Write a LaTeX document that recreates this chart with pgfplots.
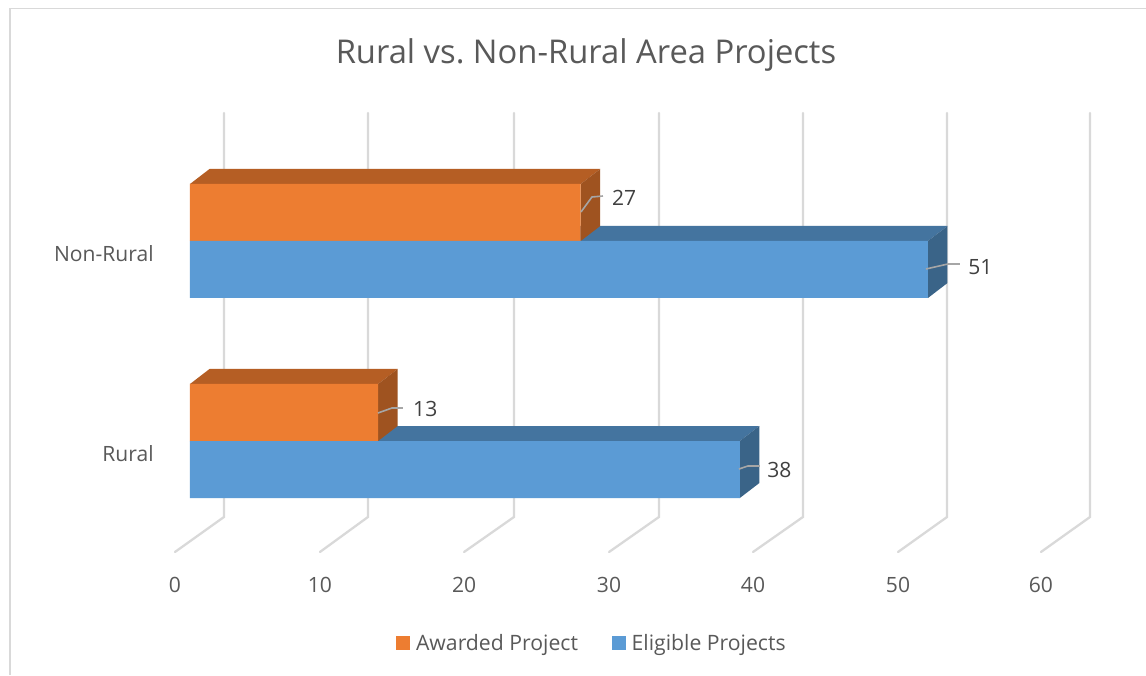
\documentclass[border=0pt]{standalone}
\usepackage{pgfplots}
\pgfplotsset{compat=1.18}
\usepackage{fontspec}
\setmainfont{Open Sans}
\frenchspacing
\definecolor{txt}{HTML}{595959}
\definecolor{lab}{HTML}{404040}
\definecolor{gridc}{HTML}{D9D9D9}
\definecolor{lead}{HTML}{A6A6A6}
\definecolor{orF}{HTML}{ED7D31}
\definecolor{orT}{HTML}{B55E24}
\definecolor{orS}{HTML}{9F5320}
\definecolor{blF}{HTML}{5B9BD5}
\definecolor{blT}{HTML}{44749F}
\definecolor{blS}{HTML}{3A6488}
\begin{document}
\begin{tikzpicture}
\fill[white,use as bounding box] (-120pt,-78.75pt) rectangle (739.5pt,427.5pt);
\draw[gridc,line width=1.3pt] (-112.5pt,-78.75pt) -- (-112.5pt,421.1pt) -- (739.5pt,421.1pt);
\begin{axis}[
  at={(0,0)},anchor=south west,
  scale only axis,width=739.5pt,height=427.5pt,
  xmin=-2.073,xmax=66.07,ymin=-0.645,ymax=2.205,
  clip=false,
  axis line style={draw=none},
  tick style={draw=none},
  xbar,
  bar width=42.75pt,
  xtick={-1.04,8.98,18.94,28.96,38.91,48.93,58.81},
  xticklabels={0,10,20,30,40,50,60},
  ytick={-0.06,0.94},
  yticklabels={Rural,Non-Rural},
  every tick label/.append style={font=\fontsize{15.8}{18}\selectfont,text=txt},
  xticklabel style={anchor=center,yshift=-11.5pt},
  yticklabel style={anchor=east,xshift=3pt,yshift=-0.5pt},
  /pgf/number format/assume math mode=true,
  every axis title shift=0pt,
  title={Rural vs. Non-Rural Area Projects},
  title style={at={(0.432,0.903)},anchor=center,font=\fontsize{24.55}{28}\selectfont,text=txt},
  legend columns=2,
  legend style={at={(0.4385,-0.128)},anchor=center,draw=none,fill=none,
    font=\fontsize{15.9}{18}\selectfont,text=txt,
    /tikz/every even column/.append style={column sep=23.5pt}},
  legend image code/.code={\fill[#1,draw=none] (0pt,-5.25pt) rectangle (10.5pt,5.25pt);\path (12.75pt,0pt);},
]
% grid walls and floor
\addplot[forget plot,sharp plot,no marks,gridc,line width=1.7pt,line cap=round] coordinates {(2.35,1.64)(2.35,-0.38)(-1.04,-0.555)};
\addplot[forget plot,sharp plot,no marks,gridc,line width=1.7pt,line cap=round] coordinates {(12.30,1.64)(12.30,-0.38)(8.98,-0.555)};
\addplot[forget plot,sharp plot,no marks,gridc,line width=1.7pt,line cap=round] coordinates {(22.39,1.64)(22.39,-0.38)(18.94,-0.555)};
\addplot[forget plot,sharp plot,no marks,gridc,line width=1.7pt,line cap=round] coordinates {(32.41,1.64)(32.41,-0.38)(28.96,-0.555)};
\addplot[forget plot,sharp plot,no marks,gridc,line width=1.7pt,line cap=round] coordinates {(42.36,1.64)(42.36,-0.38)(38.91,-0.555)};
\addplot[forget plot,sharp plot,no marks,gridc,line width=1.7pt,line cap=round] coordinates {(52.32,1.64)(52.32,-0.38)(48.93,-0.555)};
\addplot[forget plot,sharp plot,no marks,gridc,line width=1.7pt,line cap=round] coordinates {(62.20,1.64)(62.20,-0.38)(58.81,-0.555)};
% blue 3-D faces
\addplot[forget plot,sharp plot,no marks,draw=none,fill=blT] coordinates {(0,1)(1.35,1.075)(52.35,1.075)(51,1)} -- cycle;
\addplot[forget plot,sharp plot,no marks,draw=none,fill=blS] coordinates {(51,1)(52.35,1.075)(52.35,0.79)(51,0.715)} -- cycle;
\addplot[forget plot,sharp plot,no marks,draw=none,fill=blT] coordinates {(0,0)(1.35,0.075)(39.35,0.075)(38,0)} -- cycle;
\addplot[forget plot,sharp plot,no marks,draw=none,fill=blS] coordinates {(38,0)(39.35,0.075)(39.35,-0.21)(38,-0.285)} -- cycle;
% orange 3-D faces
\addplot[forget plot,sharp plot,no marks,draw=none,fill=orT] coordinates {(0,1.285)(1.35,1.36)(28.35,1.36)(27,1.285)} -- cycle;
\addplot[forget plot,sharp plot,no marks,draw=none,fill=orS] coordinates {(27,1.285)(28.35,1.36)(28.35,1.075)(27,1)} -- cycle;
\addplot[forget plot,sharp plot,no marks,draw=none,fill=orT] coordinates {(0,0.285)(1.35,0.36)(14.35,0.36)(13,0.285)} -- cycle;
\addplot[forget plot,sharp plot,no marks,draw=none,fill=orS] coordinates {(13,0.285)(14.35,0.36)(14.35,0.075)(13,0)} -- cycle;
% front faces
\addplot[draw=none,fill=orF,bar shift=21.375pt] coordinates {(13,0)(27,1)};
\addlegendentry{Awarded Project}
\addplot[draw=none,fill=blF,bar shift=-21.375pt] coordinates {(38,0)(51,1)};
\addlegendentry{Eligible Projects}
% leader lines
\addplot[forget plot,sharp plot,no marks,lead,line width=1.2pt] coordinates {(27.02,1.145)(27.78,1.22)(28.54,1.225)};
\addplot[forget plot,sharp plot,no marks,lead,line width=1.2pt] coordinates {(50.86,0.86)(52.38,0.885)(53.2,0.885)};
\addplot[forget plot,sharp plot,no marks,lead,line width=1.2pt] coordinates {(12.99,0.14)(13.96,0.165)(14.72,0.165)};
\addplot[forget plot,sharp plot,no marks,lead,line width=1.2pt] coordinates {(37.94,-0.14)(38.56,-0.125)(39.39,-0.125)};
% data labels
\node[anchor=west,inner sep=0pt,text=lab,font=\fontsize{15.8}{18}\selectfont] at (axis cs:29.16,1.215) {27};
\node[anchor=west,inner sep=0pt,text=lab,font=\fontsize{15.8}{18}\selectfont] at (axis cs:53.77,0.87) {51};
\node[anchor=west,inner sep=0pt,text=lab,font=\fontsize{15.8}{18}\selectfont] at (axis cs:15.41,0.16) {13};
\node[anchor=west,inner sep=0pt,text=lab,font=\fontsize{15.8}{18}\selectfont] at (axis cs:39.88,-0.145) {38};
\end{axis}
\end{tikzpicture}
\end{document}
